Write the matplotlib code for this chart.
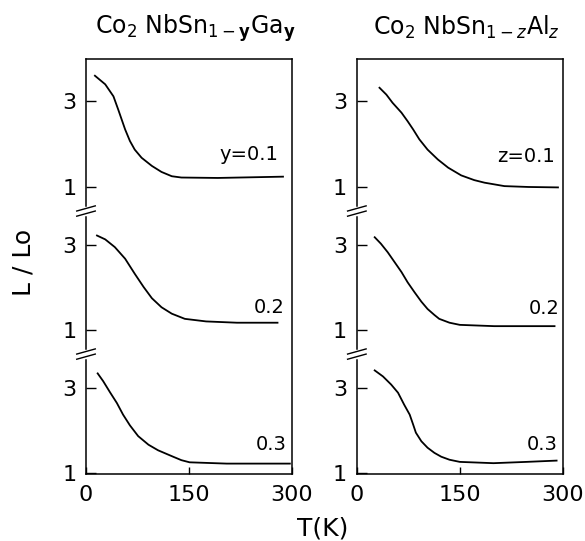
import numpy as np
import matplotlib.pyplot as plt
from matplotlib import transforms

# L/Lo vs T (each curve in its own 1..3 frame)
t_ga_01 = [13, 28, 40, 47, 52, 57, 64, 71, 81, 96, 110, 125, 139, 192, 287]
l_ga_01 = [3.60, 3.40, 3.12, 2.81, 2.58, 2.35, 2.08, 1.88, 1.69, 1.50, 1.36, 1.26,
           1.23, 1.22, 1.25]
t_ga_02 = [16, 28, 42, 57, 71, 84, 96, 110, 125, 144, 175, 220, 279]
l_ga_02 = [3.21, 3.12, 2.94, 2.67, 2.32, 2.01, 1.75, 1.54, 1.39, 1.27, 1.21, 1.18, 1.18]
t_ga_03 = [17, 25, 35, 45, 54, 64, 76, 91, 105, 127, 139, 151, 205, 297]
l_ga_03 = [3.33, 3.15, 2.89, 2.64, 2.37, 2.12, 1.87, 1.67, 1.54, 1.39, 1.31, 1.26,
           1.23, 1.23]

t_al_01 = [33, 43, 52, 65, 74, 82, 91, 103, 118, 133, 152, 171, 186, 215, 250, 293]
l_al_01 = [3.32, 3.16, 2.97, 2.74, 2.54, 2.35, 2.12, 1.88, 1.65, 1.46, 1.28, 1.17,
           1.11, 1.03, 1.01, 1.00]
t_al_02 = [26, 35, 45, 55, 65, 74, 84, 94, 103, 113, 120, 135, 150, 200, 288]
l_al_02 = [3.17, 3.02, 2.82, 2.59, 2.36, 2.12, 1.89, 1.67, 1.50, 1.36, 1.27, 1.18,
           1.13, 1.10, 1.10]
t_al_03 = [26, 38, 50, 60, 69, 77, 82, 86, 94, 103, 113, 123, 135, 150, 199, 247, 291]
l_al_03 = [3.40, 3.26, 3.07, 2.88, 2.60, 2.37, 2.14, 1.95, 1.75, 1.60, 1.48, 1.39,
           1.32, 1.27, 1.24, 1.27, 1.30]

labels_ga = ['y=0.1', '0.2', '0.3']
labels_al = ['z=0.1', '0.2', '0.3']

titles = [r'Co$_2$ NbSn$_{1-\mathbf{y}}$Ga$_\mathbf{y}$',
          r'Co$_2$ NbSn$_{1-z}$Al$_z$']

OFF = 3.33  # shift between stacked curves

fig = plt.figure(figsize=(5.85, 5.41), dpi=100)
ax1 = fig.add_axes([0.147, 0.124, 0.352, 0.767])
ax2 = fig.add_axes([0.610, 0.124, 0.352, 0.767])

panels = [
    (ax1, [(t_ga_01, l_ga_01), (t_ga_02, l_ga_02), (t_ga_03, l_ga_03)], labels_ga,
     [(280, 1.77), (290, 1.53), (293, 1.67)]),
    (ax2, [(t_al_01, l_al_01), (t_al_02, l_al_02), (t_al_03, l_al_03)], labels_al,
     [(288, 1.72), (296, 1.51), (293, 1.67)]),
]

for k, (ax, curves, labs, lpos) in enumerate(panels):
    for i, (t, l) in enumerate(curves):
        shift = (2 - i) * OFF
        ax.plot(t, np.array(l) + shift, color='black', lw=1.3)
        ax.text(lpos[i][0], lpos[i][1] + shift, labs[i], ha='right', va='center',
                fontsize=14)

    ax.set_xlim(0, 300)
    ax.set_ylim(0.99, 10.65)
    ax.set_xticks([0, 150, 300])
    ax.set_xticklabels(['0', '150', '300'])
    ax.set_yticks([1, 3, 1 + OFF, 3 + OFF, 1 + 2 * OFF, 3 + 2 * OFF])
    ax.set_yticklabels(['1', '3'] * 3)
    ax.tick_params(axis='y', direction='in', length=7, width=1, labelsize=16, pad=7)
    ax.tick_params(axis='x', direction='in', length=5, width=1, labelsize=16, pad=8)
    for s in ax.spines.values():
        s.set_linewidth(1.1)

    ax.text(0.53, 1.075, titles[k], transform=ax.transAxes, ha='center',
            va='center', fontsize=17)

    # axis break marks on the left spine
    tr = transforms.blended_transform_factory(ax.transAxes, ax.transData)
    for yb in [1 + OFF - 0.55 + OFF, 1 + OFF - 0.55]:
        ax.plot([0, 0], [yb - 0.06, yb + 0.06], color='white', lw=2.5,
                transform=tr, clip_on=False, zorder=5)
        for d in (-0.06, 0.06):
            ax.plot([-0.045, 0.045], [yb + d - 0.06, yb + d + 0.06], color='black',
                    lw=1.0, transform=tr, clip_on=False, zorder=6)

fig.text(0.041, 0.515, 'L / Lo', rotation=90, ha='center', va='center', fontsize=18)
fig.text(0.552, 0.024, 'T(K)', ha='center', va='center', fontsize=18)

fig.savefig('out.png', dpi=100)
